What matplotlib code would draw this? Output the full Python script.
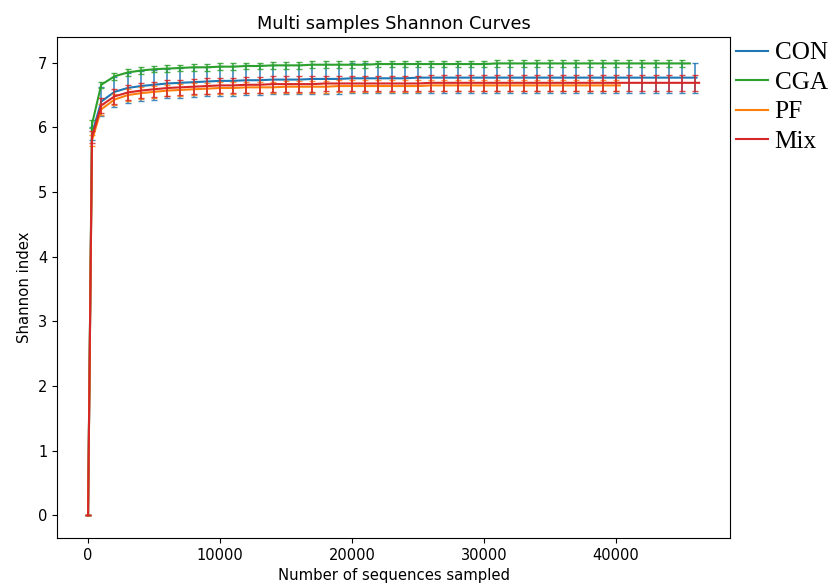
import numpy as np
import matplotlib
matplotlib.use("Agg")
import matplotlib.pyplot as plt

# Sampling depths (shared grid) and final depth of each sample group
depth = [1, 300] + list(range(1000, 47000, 1000))

groups = ["CON", "CGA", "PF", "Mix"]
colors = ["#1f77b4", "#2ca02c", "#ff7f0e", "#d62728"]

con = ([0.0, 5.90,
        6.40, 6.55, 6.61, 6.64, 6.66, 6.68, 6.69, 6.70, 6.71, 6.72,
        6.72, 6.73, 6.73, 6.74, 6.74, 6.74, 6.75, 6.75, 6.75, 6.76,
        6.76, 6.76, 6.76, 6.76, 6.77, 6.77, 6.77, 6.77, 6.77, 6.77]
       + [6.77] * 16)
cga = ([0.0, 6.05,
        6.66, 6.79, 6.85, 6.88, 6.90, 6.91, 6.92, 6.93, 6.93, 6.94,
        6.94, 6.95, 6.95, 6.96, 6.96, 6.96, 6.97, 6.97, 6.97, 6.97,
        6.97, 6.98, 6.98, 6.98, 6.98, 6.98, 6.98, 6.98, 6.98, 6.98]
       + [6.99] * 15)
pf = ([0.0, 5.80,
       6.28, 6.43, 6.50, 6.53, 6.55, 6.57, 6.58, 6.59, 6.60, 6.61,
       6.61, 6.62, 6.62, 6.62, 6.63, 6.63, 6.63, 6.63, 6.64, 6.64,
       6.64, 6.64, 6.64, 6.64, 6.64, 6.65, 6.65, 6.65, 6.65, 6.65]
      + [6.65] * 10)
mix = ([0.0, 5.85,
        6.34, 6.48, 6.54, 6.57, 6.59, 6.61, 6.62, 6.63, 6.64, 6.65,
        6.65, 6.66, 6.66, 6.67, 6.67, 6.67, 6.67, 6.68, 6.68, 6.68,
        6.68, 6.68, 6.68, 6.68, 6.68, 6.69, 6.69, 6.69, 6.69, 6.69]
       + [6.69] * 16)

con_err = [0.0, 0.10] + [0.23] * 46
cga_err = [0.0, 0.06] + [0.05] * 45
pf_err = [0.0, 0.08] + [0.09] * 40
mix_err = [0.0, 0.09] + [0.12] * 46

end_depth = [46100, 45600, 40300, 46300]

series = [con, cga, pf, mix]
errors = [con_err, cga_err, pf_err, mix_err]

fig = plt.figure(figsize=(8.3, 5.86), dpi=100)
ax = fig.add_axes([0.0687, 0.082, 0.811, 0.855])

for name, col, vals, err, end in zip(groups, colors, series, errors, end_depth):
    n = len(vals)
    x = depth[:n]
    ax.errorbar(x, vals, yerr=err, fmt="none", ecolor=col, elinewidth=1.2,
                capsize=2.5, capthick=1.0, alpha=0.85)
    ax.plot(x + [end], vals + [vals[-1]], color=col, lw=1.5, label=name)

ax.set_xlim(-2350, 48650)
ax.set_ylim(-0.35, 7.40)
ax.set_xticks([0, 10000, 20000, 30000, 40000])
ax.set_yticks(range(0, 8))
ax.tick_params(labelsize=10.5)
ax.set_title("Multi samples Shannon Curves", fontsize=12.8)
ax.set_xlabel("Number of sequences sampled", fontsize=10.7)
ax.set_ylabel("Shannon index", fontsize=10.7)

fig.legend(loc="upper left", bbox_to_anchor=(0.8745, 0.946), frameon=False,
           prop={"family": "Liberation Serif", "size": 18.2},
           handlelength=1.25, handletextpad=0.28, labelspacing=0.27,
           borderaxespad=0.0)

fig.savefig("out.png", dpi=100)
